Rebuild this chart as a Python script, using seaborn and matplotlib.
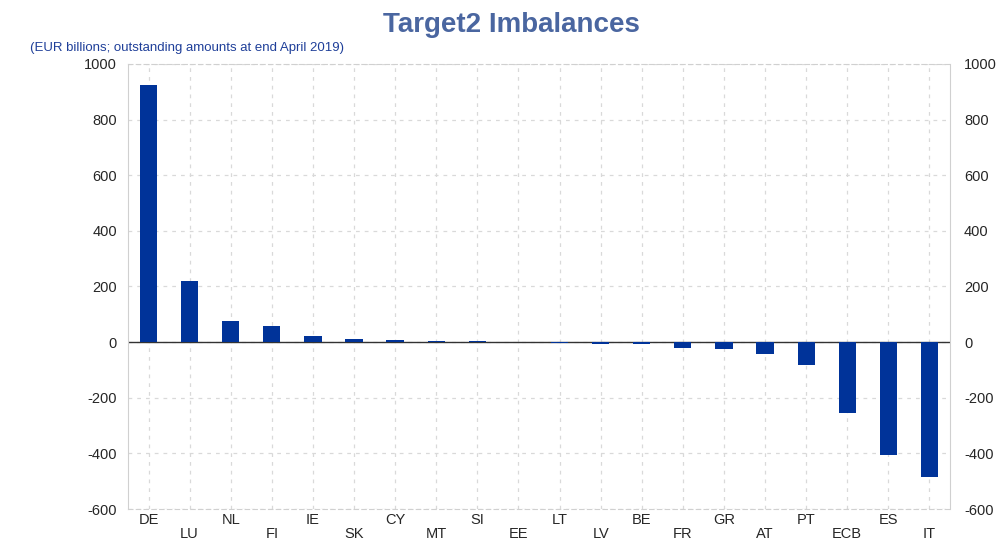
import pandas as pd
import matplotlib
matplotlib.use('Agg')
import matplotlib.pyplot as plt
import seaborn as sns

# Target2 balances, EUR billions, end April 2019
countries = ['DE', 'LU', 'NL', 'FI', 'IE', 'SK', 'CY', 'MT', 'SI', 'EE',
             'LT', 'LV', 'BE', 'FR', 'GR', 'AT', 'PT', 'ECB', 'ES', 'IT']
balances = [924, 220, 75, 58, 22, 10, 8, 5, 3, 2,
            -4, -6, -7, -22, -25, -43, -83, -255, -405, -485]
y_ticks = [-600, -400, -200, 0, 200, 400, 600, 800, 1000]

df = pd.DataFrame({'country': countries, 'balance': balances})

sns.set_style('white')
plt.rcParams['font.family'] = ['Liberation Sans', 'DejaVu Sans']

fig = plt.figure(figsize=(10.02, 5.40), dpi=100)
ax = fig.add_axes([0.1277, 0.0574, 0.8204, 0.8241])

sns.barplot(data=df, x='country', y='balance', order=countries,
            color='#003399', saturation=1, width=0.42, linewidth=0,
            ax=ax, zorder=3)

ax.set_xlim(-0.5, len(countries) - 0.5)
ax.set_ylim(-600, 1000)
ax.set_yticks(y_ticks)
ax.set_yticklabels([str(v) for v in y_ticks], fontsize=10.5)
ax.set_xticks(range(len(countries)))
ax.set_xticklabels([c if i % 2 == 0 else '\n' + c for i, c in enumerate(countries)],
                   fontsize=10.5, linespacing=0.98)
ax.set_xlabel('')
ax.set_ylabel('')
ax.tick_params(axis='both', length=0, pad=8)
ax.tick_params(axis='x', pad=3)

ax.grid(True, axis='both', color='#d9d9d9', linestyle=(0, (3, 4)), linewidth=0.9, zorder=0)
ax.axhline(0, color='#333333', linewidth=1.0, zorder=2.5)

for side in ['left', 'right']:
    ax.spines[side].set_color('#d0d0d0')
for side in ['top', 'bottom']:
    ax.spines[side].set_color('#d0d0d0')
    ax.spines[side].set_linestyle((0, (4, 3)))

ax2 = ax.twinx()
ax2.set_ylim(-600, 1000)
ax2.set_yticks(y_ticks)
ax2.set_yticklabels([str(v) for v in y_ticks], fontsize=10.5)
ax2.tick_params(axis='y', length=0, pad=10)
for s in ax2.spines.values():
    s.set_visible(False)

fig.text(0.51, 0.953, 'Target2 Imbalances', ha='center', va='center',
         fontsize=20, fontweight='bold', color='#4a66a0')
fig.text(0.030, 0.912, '(EUR billions; outstanding amounts at end April 2019)',
         ha='left', va='center', fontsize=9.5, color='#1f3f99')

fig.savefig('out.png', dpi=100)
